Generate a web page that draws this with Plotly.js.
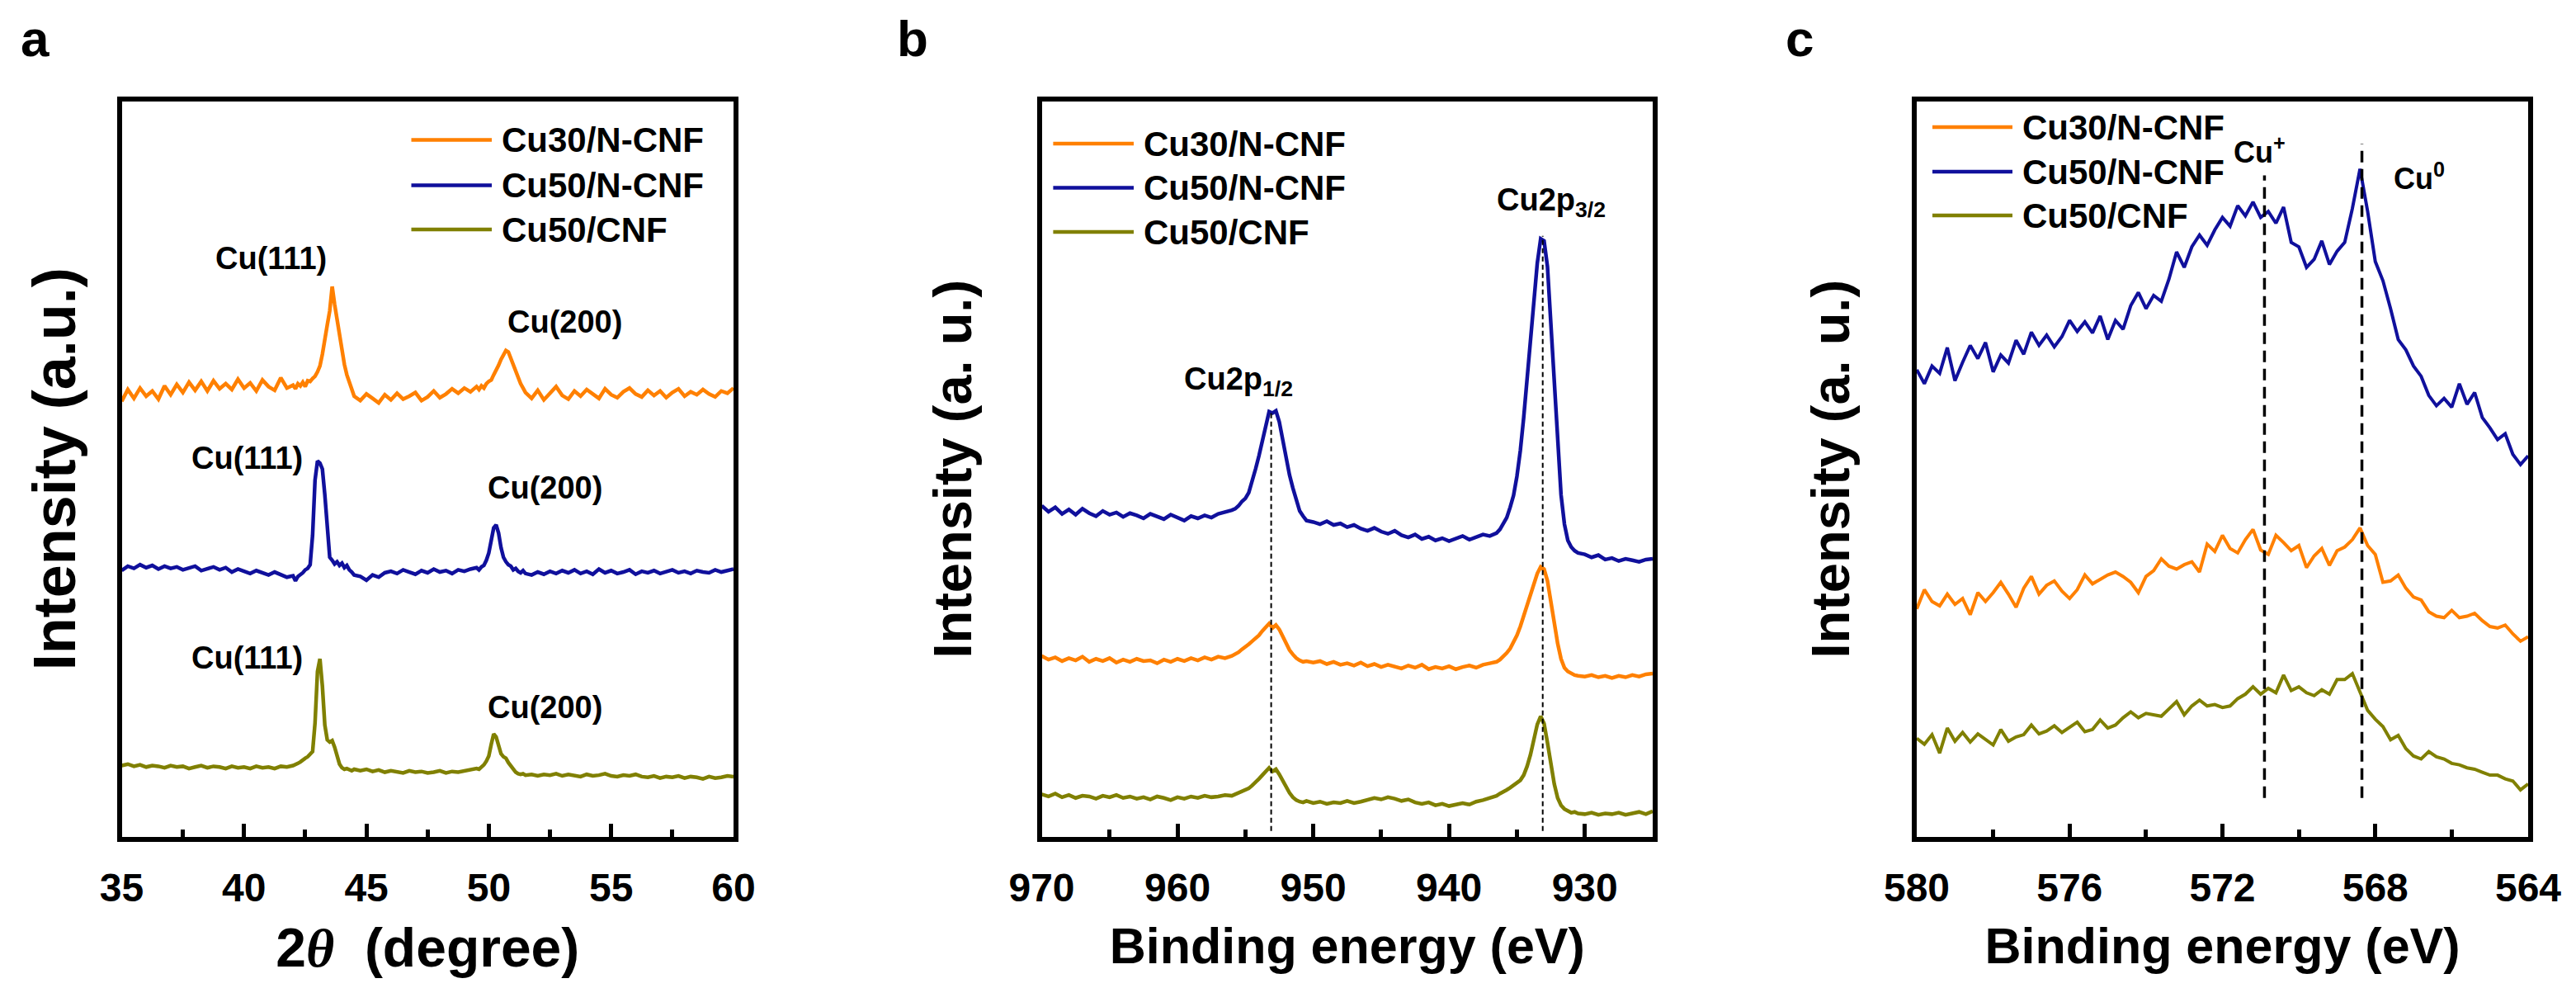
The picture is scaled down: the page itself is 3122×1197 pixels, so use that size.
<!DOCTYPE html>
<html><head><meta charset="utf-8">
<script src="https://cdn.plot.ly/plotly-3.0.1.min.js"></script>
<style>html,body{margin:0;padding:0;background:#fff;} #chart{width:3122px;height:1197px;}</style>
</head><body><div id="chart"></div>
<script>
// ---------------- DATA ----------------
const seriesNames = ['Cu30/N-CNF', 'Cu50/N-CNF', 'Cu50/CNF'];
const seriesColors = ['#FF8000', '#10109C', '#808000'];

// Panel a: XRD, 2theta (degree)
const aX = [35,35.25,35.5,35.75,36,36.25,36.5,36.75,37,37.25,37.5,37.75,38,38.25,38.5,38.75,39,39.25,39.5,39.75,40,40.25,40.5,40.75,41,41.25,41.5,41.75,42,
42.1,42.2,42.3,42.4,42.5,42.6,42.7,42.8,42.9,43,43.1,43.2,43.3,43.4,43.5,43.6,43.7,43.8,43.9,44,44.1,44.2,44.3,44.4,44.5,
44.75,45,45.25,45.5,45.75,46,46.25,46.5,46.75,47,47.25,47.5,47.75,48,48.25,48.5,48.75,49,49.25,49.5,
49.6,49.7,49.8,49.9,50,50.1,50.2,50.3,50.4,50.5,50.6,50.7,50.8,50.9,51,51.1,51.2,51.3,51.4,51.5,
51.75,52,52.25,52.5,52.75,53,53.25,53.5,53.75,54,54.25,54.5,54.75,55,55.25,55.5,55.75,56,56.25,56.5,56.75,57,57.25,57.5,57.75,58,58.25,58.5,58.75,59,59.25,59.5,59.75,60];
const aCu30N = [59.2,60.8,59.6,61.0,59.9,60.6,59.5,61.3,60.1,61.5,60.4,61.8,60.7,61.9,60.6,62.0,60.9,61.6,60.8,62.2,61.0,61.7,60.6,62.1,61.2,60.7,62.4,61.0,61.4,
60.9,61.6,61.3,61.8,61.2,62.0,61.9,62.3,62.6,63.2,64.0,65.6,68.0,69.6,71.5,74.8,72.4,70.2,68.3,66.4,64.2,62.8,61.8,60.6,59.9,
59.3,60.2,59.6,59.0,60.1,59.4,60.3,59.5,59.9,60.4,59.3,59.8,60.6,59.7,60.2,60.9,60.3,61.0,60.5,61.2,
60.8,61.3,61.0,61.6,61.9,62.1,62.8,63.4,64.1,64.9,65.6,66.1,65.9,65.0,64.0,63.2,62.4,61.6,61.0,60.4,
59.6,60.7,59.4,60.3,61.2,60.0,59.5,60.6,59.9,60.8,60.2,59.6,60.9,60.1,59.7,60.5,61.0,60.2,59.8,60.7,60.0,60.6,59.7,60.4,60.9,59.9,60.5,60.1,60.8,60.2,59.8,60.6,60.3,61.0];
const aCu50N = [36.2,36.8,36.5,37.0,36.6,36.9,36.4,36.8,36.5,36.7,36.3,36.6,36.8,36.2,36.5,36.7,36.3,36.6,36.0,36.4,36.1,35.8,36.2,35.9,35.6,36.0,35.7,35.3,35.5,
34.8,35.4,35.6,35.9,36.3,36.5,37.0,41.0,48.5,51.1,50.8,50.0,46.5,42.0,38.0,37.6,37.1,37.4,36.9,37.2,36.6,36.9,36.3,36.0,35.6,
35.4,34.9,35.6,35.3,35.9,36.1,35.8,36.3,36.0,35.7,36.2,35.9,36.4,36.0,36.2,35.8,36.3,36.1,36.4,36.6,
36.3,36.7,36.9,37.6,38.6,40.6,42.0,42.4,41.3,39.3,38.0,37.4,37.0,36.8,36.3,36.5,36.1,35.9,36.2,35.8,
35.6,36.0,35.7,36.1,35.8,36.2,35.9,36.3,35.8,36.1,35.7,36.4,35.9,36.2,35.8,36.0,36.3,35.7,36.1,35.9,36.2,35.8,36.0,36.3,35.9,36.1,35.8,36.2,36.0,35.9,36.3,36.0,36.2,36.4];
const aCu50 = [9.7,9.9,9.6,9.8,9.5,9.7,9.6,9.4,9.7,9.5,9.6,9.3,9.5,9.7,9.4,9.6,9.5,9.3,9.6,9.4,9.5,9.3,9.6,9.4,9.5,9.3,9.6,9.5,9.7,
9.8,10.0,10.2,10.5,10.7,10.9,11.2,11.6,15.5,22.5,24.2,20.5,15.2,13.2,12.9,13.1,12.2,10.8,9.9,9.4,9.2,9.3,9.1,9.0,9.2,
9.0,9.2,8.9,9.1,8.8,9.0,8.9,8.7,9.0,8.8,8.9,8.7,8.8,9.0,8.7,8.9,8.8,9.0,9.1,9.3,
9.2,9.5,9.8,10.3,11.0,12.6,14.0,13.6,12.2,11.3,10.9,10.7,10.1,9.6,9.1,8.8,8.6,8.5,8.6,8.4,
8.5,8.3,8.5,8.4,8.6,8.3,8.5,8.4,8.2,8.5,8.3,8.4,8.6,8.3,8.2,8.4,8.3,8.5,8.2,8.1,8.3,8.0,8.2,8.1,8.3,8.0,8.2,8.1,7.9,8.2,8.0,8.1,8.3,8.2];
const aPeakText = ['Cu(111)','Cu(200)','Cu(111)','Cu(200)','Cu(111)','Cu(200)'];
const aPeakTextX = [41.1, 53.1, 40.12, 52.31, 40.12, 52.31];
const aPeakTextY = [78.6, 70.0, 51.5, 47.5, 24.3, 17.6];

// Panel b: XPS Cu 2p, binding energy (eV)
const bX = [970,969.5,969,968.5,968,967.5,967,966.5,966,965.5,965,964.5,964,963.5,963,962.5,962,961.5,961,960.5,960,959.5,959,958.5,958,957.5,957,956.5,956,
955.75,955.5,955.25,955,954.75,954.5,954.25,954,953.75,953.5,953.25,953,952.75,952.5,952.25,952,951.75,951.5,951.25,951,950.75,950.5,
950,949.5,949,948.5,948,947.5,947,946.5,946,945.5,945,944.5,944,943.5,943,942.5,942,941.5,941,940.5,940,939.5,939,938.5,938,937.5,937,936.5,
936.25,936,935.75,935.5,935.25,935,934.75,934.5,934.25,934,933.75,933.5,933.25,933,932.75,932.5,932.25,932,931.75,931.5,931.25,931,930.75,930.5,
930,929.5,929,928.5,928,927.5,927,926.5,926,925.5,925];
const bCu30N = [24.6,24.1,24.4,23.9,24.3,24.0,24.5,23.8,24.2,23.9,24.3,23.7,24.1,23.8,24.2,23.9,24.0,23.6,24.1,23.8,24.2,23.9,24.3,24.0,24.4,24.1,24.5,24.3,24.6,
24.8,25.1,25.5,25.8,26.2,26.6,27.0,27.4,28.0,28.6,29.0,28.4,28.8,28.2,27.2,26.1,25.4,24.8,24.3,24.0,23.8,23.9,
23.7,23.9,23.5,23.8,23.4,23.6,23.3,23.7,23.2,23.5,23.1,23.4,23.2,22.9,23.3,23.0,23.4,22.8,23.1,22.9,23.2,22.8,23.1,23.3,23.0,23.4,23.6,23.8,
24.1,24.5,25.0,25.6,26.4,27.4,28.6,30.0,31.6,33.0,34.5,35.8,36.7,36.4,34.8,32.0,28.8,26.3,24.2,23.0,22.5,22.2,22.0,21.9,
21.8,22.0,21.7,21.9,21.6,21.9,21.7,22.0,21.8,22.1,22.2];
const bCu50N = [45.0,44.2,44.8,43.9,44.5,43.8,44.6,44.0,43.6,44.3,43.8,44.1,43.5,44.0,43.7,43.3,43.9,43.5,43.2,43.8,43.4,43.0,43.6,43.3,43.7,43.4,43.9,44.1,44.4,
44.6,45.0,45.6,46.0,46.8,48.2,50.0,51.8,54.0,56.2,57.8,57.6,57.9,56.4,53.8,51.6,49.2,47.4,45.6,44.3,43.6,43.0,
42.8,42.5,42.9,42.4,42.6,42.1,42.4,41.9,41.6,42.0,41.5,41.2,41.6,41.0,40.7,41.1,40.5,40.8,40.3,40.6,40.2,40.5,40.9,40.4,40.8,41.1,40.9,41.3,
41.8,42.6,43.4,44.8,46.4,49.0,52.5,57.0,62.5,68.0,73.5,78.0,81.3,81.0,77.5,70.0,61.0,53.0,46.5,42.5,40.3,39.4,38.9,38.6,
38.4,38.0,38.3,37.7,37.9,37.5,37.8,37.6,37.4,37.7,37.8];
const bCu50 = [5.8,5.5,5.9,5.4,5.7,5.3,5.6,5.5,5.2,5.6,5.4,5.7,5.3,5.5,5.2,5.4,5.1,5.5,5.3,5.0,5.4,5.2,5.5,5.3,5.6,5.4,5.5,5.7,5.6,
5.8,6.0,6.1,6.3,6.6,7.0,7.4,7.9,8.4,9.0,9.4,8.9,9.2,8.5,7.6,6.8,6.0,5.4,5.0,4.8,4.7,4.9,
4.6,4.8,4.5,4.7,4.6,4.9,4.6,4.8,5.0,5.3,5.1,5.4,5.2,4.9,5.1,4.7,4.5,4.7,4.3,4.5,4.2,4.4,4.6,4.4,4.8,5.0,5.3,5.6,
5.9,6.1,6.4,6.7,7.0,7.3,7.7,8.4,9.6,11.2,13.3,15.3,16.4,15.4,12.8,9.8,7.2,5.3,4.3,3.8,3.5,3.3,3.4,3.2,
3.1,3.3,3.0,3.2,3.1,3.3,3.0,3.2,3.4,3.1,3.5];
const bPeakText = ['Cu2p<sub>1/2</sub>', 'Cu2p<sub>3/2</sub>'];
const bPeakTextX = [955.5, 932.5];
const bPeakTextY = [61.9, 86.3];
const bPeakE = [953.1, 933.1];      // dashed reference lines
const bPeakTop = [58.0, 81.7];
const bLineBottom = 0.8;

// Panel c: XPS Cu LMM, binding energy (eV)
const cX = [580,579.8,579.6,579.4,579.2,579,578.8,578.6,578.4,578.2,578,577.8,577.6,577.4,577.2,577,576.8,576.6,576.4,576.2,
576,575.8,575.6,575.4,575.2,575,574.8,574.6,574.4,574.2,574,573.8,573.6,573.4,573.2,573,572.8,572.6,572.4,572.2,
572,571.8,571.6,571.4,571.2,571,570.8,570.6,570.4,570.2,570,569.8,569.6,569.4,569.2,569,568.8,568.6,568.4,568.2,
568,567.8,567.6,567.4,567.2,567,566.8,566.6,566.4,566.2,566,565.8,565.6,565.4,565.2,565,564.8,564.6,564.4,564.2,564];
const cCu30N = [31.0,33.6,32.0,31.4,33.0,31.6,32.4,30.2,33.2,32.0,33.2,34.6,33.0,31.2,33.8,35.4,33.0,34.2,34.8,33.4,
32.4,33.6,35.6,34.4,35.0,35.6,36.0,35.4,34.6,33.2,35.4,36.2,37.8,36.8,36.4,37.0,37.4,36.0,39.8,38.8,
41.0,39.2,38.6,40.4,41.8,39.0,38.4,41.0,40.0,38.9,39.6,36.6,38.2,39.2,36.9,38.9,39.4,40.4,42.0,39.6,
38.4,34.6,34.8,35.6,33.8,32.6,32.2,30.6,30.0,29.8,30.8,29.8,30.0,30.4,29.4,28.6,28.4,28.8,27.6,26.6,27.2];
const cCu50N = [63.5,61.6,64.0,63.0,66.5,62.0,64.5,66.8,65.0,67.2,63.2,65.5,64.4,67.5,65.6,68.6,66.8,68.2,66.6,68.0,
70.2,68.7,70.0,68.5,70.8,67.6,70.2,69.0,72.2,74.0,71.8,73.6,72.8,75.8,79.5,77.4,80.2,81.8,80.4,82.5,
84.2,83.0,85.8,84.4,86.3,84.2,85.0,83.4,85.6,80.8,80.2,77.4,78.5,81.0,77.8,79.6,80.8,85.4,90.8,85.0,
78.2,75.6,71.8,67.6,66.2,64.0,62.6,60.0,58.6,59.6,58.4,61.6,58.8,60.4,57.0,55.6,54.0,54.8,52.0,50.6,51.8];
const cCu50 = [13.4,12.6,13.9,11.4,14.8,13.0,14.2,12.9,14.0,13.2,12.5,14.6,13.0,13.6,13.9,15.2,14.0,14.4,15.1,14.2,
14.9,15.6,14.3,14.6,15.9,14.8,15.2,16.2,17.0,16.2,16.8,16.6,16.4,17.4,18.4,16.6,17.8,18.6,17.8,18.0,
17.6,17.8,18.8,19.4,20.4,19.4,20.2,19.6,22.0,19.9,20.4,19.6,19.2,20.0,19.4,21.4,21.4,22.2,19.6,17.2,
16.0,15.0,13.2,13.8,12.0,11.0,10.6,11.6,10.9,10.6,10.0,9.8,9.4,9.2,8.8,8.4,8.4,7.9,7.6,6.4,7.2];
const cStateText = ['Cu<sup>+</sup>', 'Cu<sup>0</sup>'];
const cStateTextX = [571.03, 566.86];
const cStateTextY = [93.3, 89.7];
const cStateE = [570.9, 568.35];    // dashed reference lines
const cStateTop = [89.9, 94.2];
const cLineBottom = 5.3;

// ---------------- LAYOUT HELPERS ----------------
const W = 3122, H = 1197;
const FONT = 'Liberation Sans, Arial, sans-serif';
const NB = '\u00A0';
const px = v => v / W;
const py = v => 1 - v / H;

const panels = [
  {x0: 147.5, x1: 889},
  {x0: 1262.5, x1: 2003},
  {x0: 2323, x1: 3064}
];
const yDom = [py(1014), py(122.5)];

function makeX(i, range, tick0, dtick, minorTick0, minorDtick, title, titleSize) {
  return {
    domain: [px(panels[i].x0), px(panels[i].x1)],
    anchor: i === 0 ? 'y' : 'y' + (i + 1),
    range: range, autorange: false,
    showline: true, mirror: true, linewidth: 6, linecolor: '#000',
    ticks: 'inside', ticklen: 16, tickwidth: 5, tickcolor: '#000',
    tickmode: 'linear', tick0: tick0, dtick: dtick,
    minor: {ticks: 'inside', ticklen: 9, tickwidth: 5, tickcolor: '#000', dtick: minorDtick, tick0: minorTick0, showgrid: false},
    showgrid: false, zeroline: false,
    ticklabelstandoff: 14,
    tickfont: {family: FONT, size: 48, color: '#000', weight: 'bold'},
    title: {text: title, font: {family: FONT, size: titleSize, color: '#000', weight: 'bold'}, standoff: 26}
  };
}
function makeY(i, title, titleSize, standoff) {
  return {
    domain: yDom,
    anchor: i === 0 ? 'x' : 'x' + (i + 1),
    range: [0, 100], autorange: false,
    showline: true, mirror: true, linewidth: 6, linecolor: '#000',
    ticks: '', showticklabels: false, showgrid: false, zeroline: false,
    title: {text: title, font: {family: FONT, size: titleSize, color: '#000', weight: 'bold'}, standoff: standoff}
  };
}

function traces(x, ys, order, xa, ya, w) {
  return order.map(k => ({
    type: 'scatter', mode: 'lines', x: x, y: ys[k], name: seriesNames[k],
    xaxis: xa, yaxis: ya, showlegend: false, hoverinfo: 'skip',
    line: {color: seriesColors[k], width: w}
  }));
}

const data = []
  .concat(traces(aX, [aCu30N, aCu50N, aCu50], [0, 1, 2], 'x', 'y', 4.5))
  .concat(traces(bX, [bCu30N, bCu50N, bCu50], [1, 0, 2], 'x2', 'y2', 4.5))
  .concat(traces(cX, [cCu30N, cCu50N, cCu50], [0, 1, 2], 'x3', 'y3', 4));

const annotations = [];
const shapes = [];

// panel letters
[['a', 23], ['b', 1085], ['c', 2162]].forEach(([t, x]) => {
  annotations.push({xref: 'paper', yref: 'paper', x: px(x), y: py(47), xanchor: 'left', yanchor: 'middle',
    text: t, showarrow: false, font: {family: FONT, size: 62, color: '#000', weight: 'bold'}});
});

// peak labels
aPeakText.forEach((t, k) => annotations.push({xref: 'x', yref: 'y', x: aPeakTextX[k], y: aPeakTextY[k],
  text: t, showarrow: false, font: {family: FONT, size: 38, color: '#000', weight: 'bold'}}));
bPeakText.forEach((t, k) => annotations.push({xref: 'x2', yref: 'y2', x: bPeakTextX[k], y: bPeakTextY[k],
  text: t, showarrow: false, font: {family: FONT, size: 38, color: '#000', weight: 'bold'}}));
cStateText.forEach((t, k) => annotations.push({xref: 'x3', yref: 'y3', x: cStateTextX[k], y: cStateTextY[k],
  text: t, showarrow: false, font: {family: FONT, size: 36, color: '#000', weight: 'bold'}}));

// dashed reference lines
bPeakE.forEach((e, k) => shapes.push({type: 'line', xref: 'x2', yref: 'y2', x0: e, x1: e, y0: bLineBottom, y1: bPeakTop[k],
  line: {color: '#000', width: 2, dash: '6px,4px'}}));
cStateE.forEach((e, k) => shapes.push({type: 'line', xref: 'x3', yref: 'y3', x0: e, x1: e, y0: cLineBottom, y1: cStateTop[k],
  line: {color: '#000', width: 3.5, dash: '14px,8px'}}));

// legends (drawn manually to match long sample lines)
const legendPos = [
  {lx0: 498.5, lx1: 596, tx: 606, rows: [169.6, 224.5, 278]},
  {lx0: 1276.4, lx1: 1374, tx: 1384, rows: [174, 227.5, 281]},
  {lx0: 2342, lx1: 2439, tx: 2449, rows: [154, 208, 261]}
];
legendPos.forEach(L => {
  seriesNames.forEach((nm, k) => {
    shapes.push({type: 'line', xref: 'paper', yref: 'paper', x0: px(L.lx0), x1: px(L.lx1), y0: py(L.rows[k]), y1: py(L.rows[k]),
      line: {color: seriesColors[k], width: 4.5}});
    annotations.push({xref: 'paper', yref: 'paper', x: px(L.tx), y: py(L.rows[k]), xanchor: 'left', yanchor: 'middle',
      text: nm, showarrow: false, font: {family: FONT, size: 42, color: '#000', weight: 'bold'}});
  });
});

const layout = {
  width: W, height: H,
  margin: {l: 0, r: 0, t: 0, b: 0},
  paper_bgcolor: '#fff', plot_bgcolor: '#fff',
  showlegend: false, hovermode: false,
  xaxis: makeX(0, [35, 60], 35, 5, 35, 2.5, '2<span style="font-family:Liberation Serif;font-style:italic">θ</span>  (degree)', 66),
  yaxis: makeY(0, 'Intensity (a.u.)' + NB + NB, 72, 28),
  xaxis2: makeX(1, [970, 925], 930, 10, 925, 5, 'Binding energy (eV)', 61),
  yaxis2: makeY(1, 'Intensity (a. u.)' + NB + NB + NB + NB, 65, 60),
  xaxis3: makeX(2, [580, 564], 564, 4, 564, 2, 'Binding energy (eV)', 61),
  yaxis3: makeY(2, 'Intensity (a. u.)' + NB + NB, 65, 56),
  annotations: annotations,
  shapes: shapes
};

Plotly.newPlot('chart', data, layout, {displayModeBar: false, staticPlot: true});
</script>
</body></html>
